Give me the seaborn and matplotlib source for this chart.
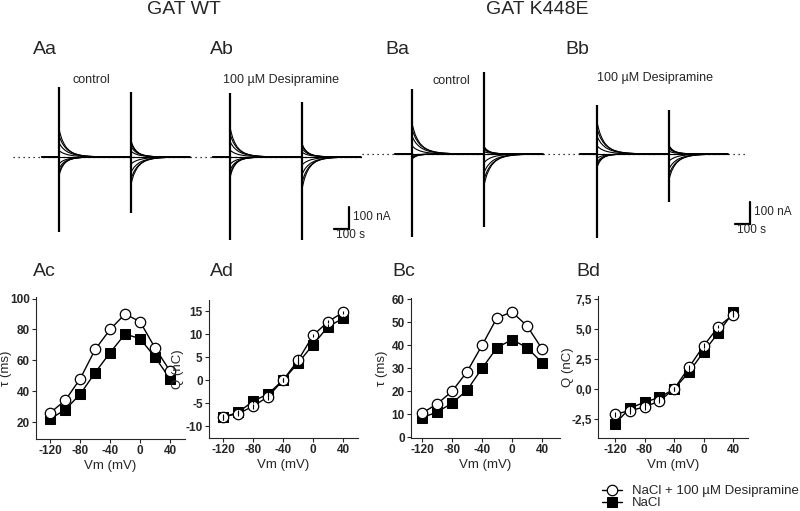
import numpy as np
import matplotlib
matplotlib.use('Agg')
import matplotlib.pyplot as plt
from matplotlib.ticker import FuncFormatter
import seaborn as sns

### Data ###
vm = [-120, -100, -80, -60, -40, -20, 0, 20, 40]

# tau (ms) and charge (nC) vs membrane potential
tau_wt_desi = [26, 34, 48, 67, 80, 90, 85, 68, 53]
tau_wt_nacl = [22, 28, 38, 52, 65, 77, 74, 62, 48]
q_wt_desi = [-8.0, -7.3, -5.7, -3.6, 0.0, 4.3, 9.7, 12.7, 14.7]
q_wt_nacl = [-8.1, -7.0, -4.6, -3.0, 0.0, 3.7, 7.7, 11.6, 13.4]
q_wt_desi_err = [0.7, 0.6, 0.5, 0.7, 0.5, 1.2, 0.4, 0.4, 0.4]
q_wt_nacl_err = [0.5, 0.4, 0.5, 0.5, 0.4, 0.6, 0.5, 0.5, 0.5]

tau_mut_desi = [10.5, 14.5, 20, 28.5, 40, 52, 54.5, 48.5, 38.5]
tau_mut_nacl = [8.5, 11, 14.8, 20.5, 30, 39, 42.5, 39, 32.5]
q_mut_desi = [-2.1, -1.8, -1.5, -1.0, 0.0, 1.8, 3.6, 5.2, 6.2]
q_mut_nacl = [-2.9, -1.6, -1.1, -0.7, 0.0, 1.4, 3.1, 4.7, 6.4]
q_mut_desi_err = [0.2, 0.25, 0.25, 0.2, 0.2, 0.2, 0.2, 0.15, 0.2]
q_mut_nacl_err = [0.15, 0.2, 0.2, 0.2, 0.15, 0.2, 0.2, 0.2, 0.2]

# current traces: transient amplitudes (nA) at step on / step off, one per step
amp_on_aa = [-81, -70, -52, -30, 0, 28, 62, 95, 122]
amp_off_aa = [77, 66, 50, 27, 0, -32, -70, -102, -126]
amp_on_ab = [-90, -77, -58, -32, 0, 30, 68, 102, 130]
amp_off_ab = [63, 55, 40, 22, 0, -36, -80, -118, -149]
amp_on_ba = [-23, -19, -14, -7, 0, 36, 78, 110, 135]
amp_off_ba = [36, 30, 22, 11, 0, -40, -85, -118, -144]
amp_on_bb = [-59, -50, -37, -19, 0, 36, 78, 112, 140]
amp_off_bb = [41, 35, 26, 13, 0, -32, -68, -95, -117]

# capacitive spikes (nA): (on top, on bottom, off top, off bottom)
spikes_aa = [315, -338, 293, -252]
spikes_ab = [288, -374, 248, -374]
spikes_ba = [293, -374, 369, -329]
spikes_bb = [221, -378, 198, -216]

# shape of the relaxation (time in s, normalised)
decay_t = [0, 10, 22, 38, 55, 80, 110, 150, 200, 270, 360]
decay_v = [1, 0.82, 0.64, 0.48, 0.35, 0.23, 0.14, 0.075, 0.035, 0.012, 0]

sns.set_style('ticks')
plt.rcParams['font.family'] = ['Liberation Sans', 'DejaVu Sans']
plt.rcParams['axes.unicode_minus'] = False

W, H = 800, 511
fig = plt.figure(figsize=(8, 5.11), dpi=100)


def px_ax(left, top, right, bottom):
    return fig.add_axes([left / W, 1 - bottom / H, (right - left) / W, (bottom - top) / H])


def ftext(x, y, s, **kw):
    fig.text(x / W, 1 - y / H, s, **kw)


### Traces ###
T_ON, T_OFF, T_END = 115, 595, 990
S_PER_PX, NA_PER_PX = 6.7, 4.5
XL = (-250, 1150)
YL = (-420, 420)


def trace_panel(solid_px, base_px, amp_on, amp_off, spikes, tau, dots):
    left = solid_px + XL[0] / S_PER_PX
    top = base_px - YL[1] / NA_PER_PX
    ax = px_ax(left, top, left + (XL[1] - XL[0]) / S_PER_PX, top + (YL[1] - YL[0]) / NA_PER_PX)
    ax.set_xlim(XL)
    ax.set_ylim(YL)
    ax.axis('off')
    ax.plot(dots, [0, 0], color='black', lw=0.9, ls=(0, (1, 3)))
    dt = np.array(decay_t, dtype=float)
    dv = np.array(decay_v)
    tmax = max(tau)
    for a_on, a_off, tt in zip(amp_on, amp_off, tau):
        s = 0.5 + 0.6 * tt / tmax
        x = np.concatenate([[0, T_ON], T_ON + s * dt, [T_OFF], T_OFF + s * dt, [T_END]])
        y = np.concatenate([[0, 0], a_on * dv, [0], a_off * dv, [0]])
        ax.plot(x, y, color='black', lw=0.8)
    ax.vlines([T_ON, T_OFF], [spikes[1], spikes[3]], [spikes[0], spikes[2]],
              color='black', lw=1.6)
    return ax


ax_aa = trace_panel(42, 157, amp_on_aa, amp_off_aa, spikes_aa, tau_wt_nacl, (-194, 990))
ax_ab = trace_panel(213, 157, amp_on_ab, amp_off_ab, spikes_ab, tau_wt_desi, (-154, 990))
ax_ba = trace_panel(395, 154, amp_on_ba, amp_off_ba, spikes_ba, tau_mut_nacl, (-221, 990))
ax_bb = trace_panel(580, 154, amp_on_bb, amp_off_bb, spikes_bb, tau_mut_desi, (-248, 1126))

# scale bars (100 s, 100 nA)
for ax, x1, y0 in [(ax_ab, 911, -324), (ax_bb, 1139, -315)]:
    ax.plot([x1 - 100, x1, x1], [y0, y0, y0 + 100], color='black', lw=1.6,
            solid_joinstyle='miter', clip_on=False)
    ax.text(x1 + 25, y0 + 55, '100 nA', fontsize=8.5, va='center', ha='left')
    ax.text(x1 - 90, y0 - 28, '100 s', fontsize=8.5, va='center', ha='left')

ftext(91, 80, 'control', fontsize=9, ha='center', va='center')
ftext(281, 80, '100 µM Desipramine', fontsize=9, ha='center', va='center')
ftext(451, 81, 'control', fontsize=9, ha='center', va='center')
ftext(655, 78, '100 µM Desipramine', fontsize=9, ha='center', va='center')

ftext(184, 10, 'GAT WT', fontsize=14, ha='center', va='center')
ftext(537, 10, 'GAT K448E', fontsize=14, ha='center', va='center')
for lab, x, y in [('Aa', 33, 49), ('Ab', 210, 49), ('Ba', 385, 49), ('Bb', 565, 49),
                  ('Ac', 33, 271), ('Ad', 210, 271), ('Bc', 392, 271), ('Bd', 576, 271)]:
    ftext(x, y, lab, fontsize=14, ha='left', va='center')


### I-V panels ###
def iv_panel(box, y_desi, y_nacl, xlim, ylim, yticks, ylabel, label_x, err_desi=None, err_nacl=None):
    ax = px_ax(*box)
    sns.lineplot(x=vm, y=y_nacl, ax=ax, color='black', marker='s', markersize=6.5,
                 mfc='black', mec='black', lw=1, zorder=2)
    h_nacl = ax.lines[-1]
    sns.lineplot(x=vm, y=y_desi, ax=ax, color='black', marker='o', markersize=7.5,
                 mfc='white', mec='black', mew=0.9, lw=1, zorder=3)
    h_desi = ax.lines[-1]
    if err_desi is not None:
        ax.errorbar(vm, y_desi, yerr=err_desi, fmt='none', ecolor='black', elinewidth=0.8, zorder=4)
        ax.errorbar(vm, y_nacl, yerr=err_nacl, fmt='none', ecolor='black', elinewidth=0.8, zorder=4)
    ax.set_xlim(xlim)
    ax.set_ylim(ylim)
    ax.set_xticks([-120, -80, -40, 0, 40])
    ax.set_yticks(yticks)
    ax.tick_params(labelsize=8.5, length=3, width=0.8, pad=1.5)
    for t in ax.get_xticklabels() + ax.get_yticklabels():
        t.set_fontweight('bold')
    ax.set_xlabel('Vm (mV)', fontsize=9.5, labelpad=2)
    ax.set_ylabel(ylabel, fontsize=9.5)
    w = box[2] - box[0]
    ax.yaxis.set_label_coords((label_x - box[0]) / w, 0.5)
    sns.despine(ax=ax)
    for sp in ax.spines.values():
        sp.set_linewidth(0.8)
    return ax, h_desi, h_nacl


iv_panel((36, 297, 185, 439), tau_wt_desi, tau_wt_nacl, (-139, 60), (9, 101),
         [20, 40, 60, 80, 100], 'τ (ms)', 12)
iv_panel((209, 300, 358, 438), q_wt_desi, q_wt_nacl, (-139, 60), (-12.6, 17.4),
         [-10, -5, 0, 5, 10, 15], 'Q (nC)', 184, q_wt_desi_err, q_wt_nacl_err)
iv_panel((411, 298, 560, 438), tau_mut_desi, tau_mut_nacl, (-134.7, 64), (-0.3, 60.6),
         [0, 10, 20, 30, 40, 50, 60], 'τ (ms)', 388)
ax_bd, h_desi, h_nacl = iv_panel((598, 296, 748, 438), q_mut_desi, q_mut_nacl, (-143, 60),
                                 (-4.08, 7.75), [-2.5, 0.0, 2.5, 5.0, 7.5], 'Q (nC)', 574,
                                 q_mut_desi_err, q_mut_nacl_err)
ax_bd.yaxis.set_major_formatter(FuncFormatter(lambda v, p: '{:.1f}'.format(v).replace('.', ',')))

fig.legend([h_desi, h_nacl], ['NaCl + 100 µM Desipramine', 'NaCl'],
           loc='upper left', bbox_to_anchor=(602 / W, 1 - 485 / H), frameon=False,
           fontsize=9.5, handlelength=1.5, handletextpad=0.8, labelspacing=0.0,
           borderpad=0, borderaxespad=0)

fig.savefig('out.png', dpi=100)
